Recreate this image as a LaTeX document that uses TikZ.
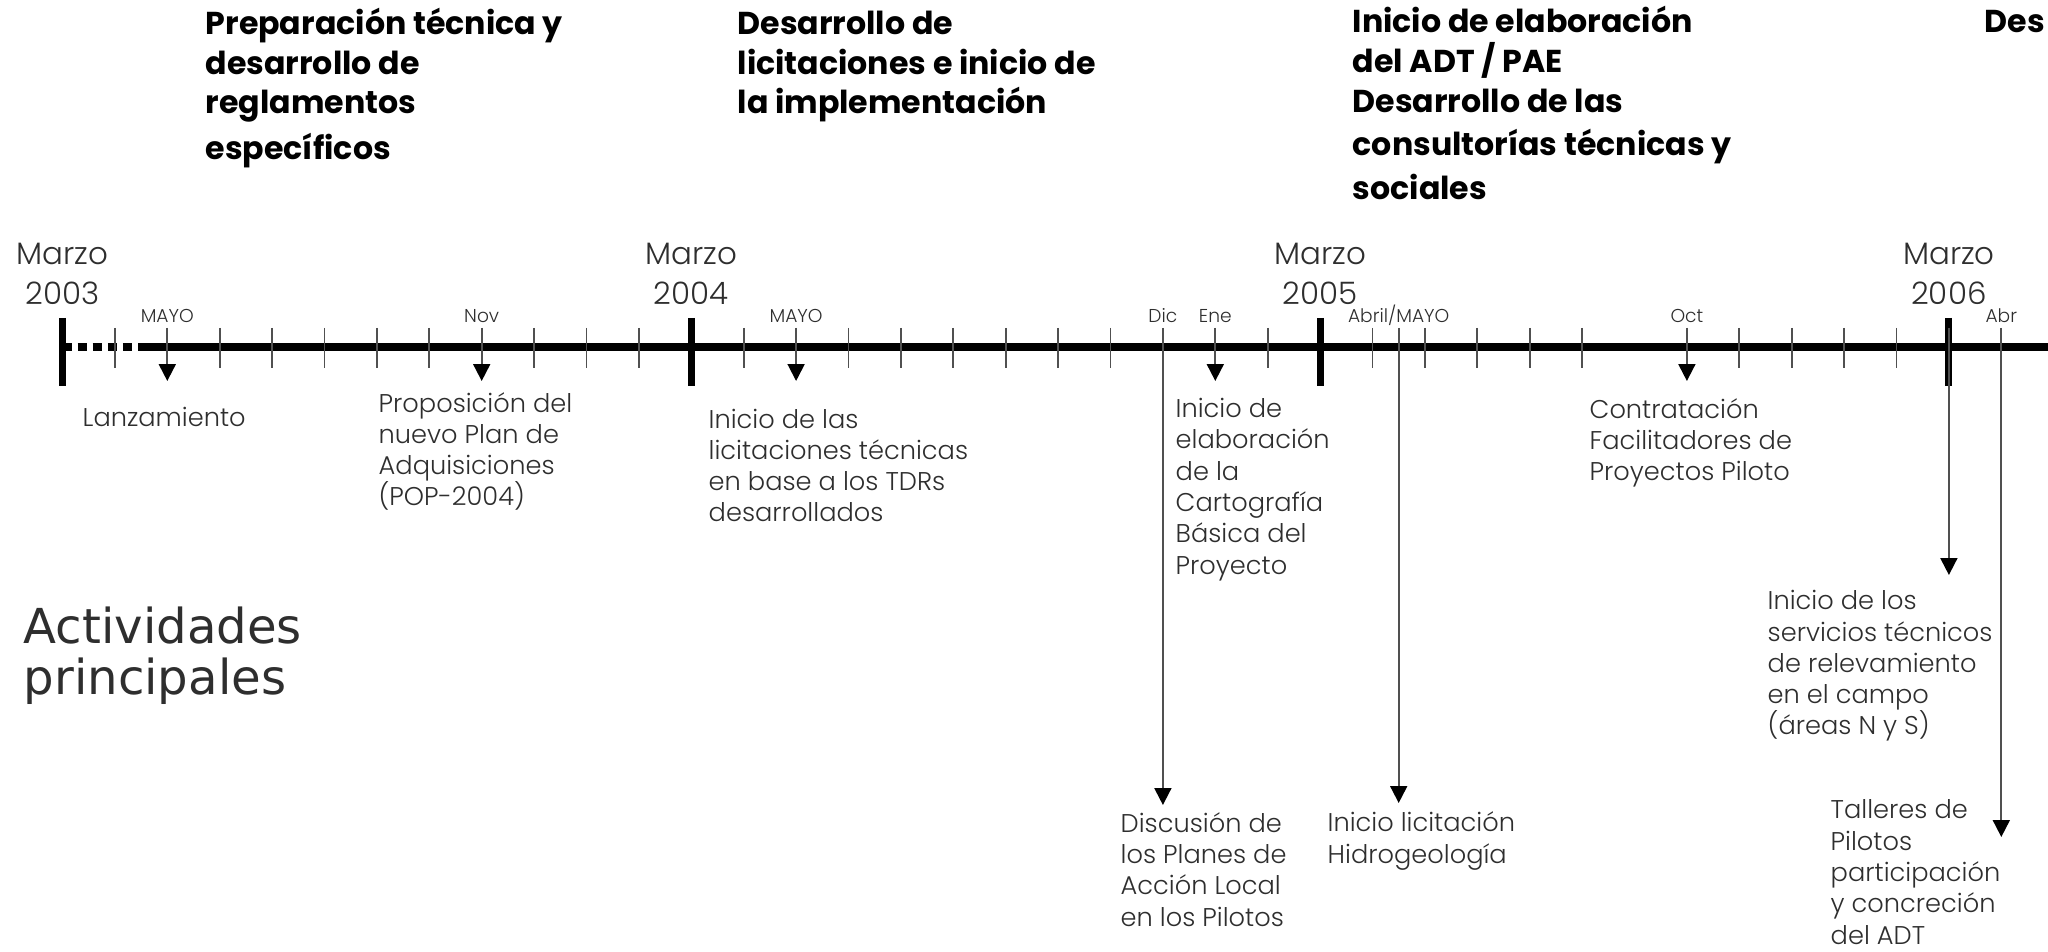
\documentclass[tikz,border=0pt]{standalone}
\usepackage{fontspec}
\setmainfont{Poppins}
\newfontfamily\ligera{Poppins Light}
\newfontfamily\dejavu{DejaVu Sans}
\usetikzlibrary{arrows.meta}

\definecolor{tinta}{HTML}{2E2E2E}
\definecolor{raya}{HTML}{505050}

\begin{document}
\begin{tikzpicture}[x=0.01cm, y=-0.01cm,
  head/.style={anchor=base west, align=left, inner sep=0pt, font=\bfseries\fontsize{9}{11.3}\selectfont},
  lbl/.style={anchor=base west, align=left, inner sep=0pt, text=tinta, font=\ligera\fontsize{7.3}{8.9}\selectfont},
  mes/.style={anchor=base, inner sep=0pt, text=tinta, font=\ligera\fontsize{5.3}{6}\selectfont},
  anio/.style={anchor=base, align=center, inner sep=0pt, text=tinta, font=\ligera\fontsize{8.8}{11.4}\selectfont},
  fino/.style={raya, line width=0.55pt},
  flecha/.style={fino, -{Triangle[width=4.8pt, length=4.8pt, color=black]}}]
\useasboundingbox (0,0) rectangle (2048,952);

% Phases (top), placed by the baseline of their last line
\node[head] (fase1) at (205,160) {Preparación técnica y\\desarrollo de\\reglamentos\\[1.8pt]específicos};
\node[head] (fase2) at (737,114) {Desarrollo de\\licitaciones e inicio de\\la implementación};
\node[head] (fase3) at (1352,200) {Inicio de elaboración\\del ADT / PAE\\Desarrollo de las\\[1pt]consultorías técnicas y\\[1.4pt]sociales};
\node[head] (fase4) at (1984,33) {Des};

% Timeline
\draw[line width=2.5pt, dash pattern=on 2.6pt off 1.7pt] (62.5,347) -- (142,347);
\draw[line width=2.5pt] (142,347) -- (2048,347);

% Month ticks
\foreach \m in {1,2,3,4,5,6,7,8,9,10,11,13,14,15,16,17,18,19,20,22,23,25,26,27,28,29,31,32,33,34,35}
    \draw[fino] ({62.5+52.4*\m},328) -- ++(0,40);

% Years
\foreach \m/\a in {0/2003, 12/2004, 24/2005, 36/2006} {
    \draw[line width=2pt] ({62.5+52.4*\m},318) -- ++(0,68);
    \node[anio] (marzo\a) at ({62.5+52.4*\m},305) {Marzo\\\a};
}

% Month names
\foreach \m/\t/\n in {2/MAYO/mayoA, 8/Nov/nov, 14/MAYO/mayoB, 21/Dic/dic, 22/Ene/ene, 31/Oct/oct, 37/Abr/abr}
    \node[mes] (m\n) at ({62.5+52.4*\m},323) {\t};
\node[mes] (mabrmay) at ({62.5+52.4*25.5},323) {Abril/MAYO};

% Short arrows
\foreach \m/\n in {2/lanz, 8/prop, 14/lici, 22/carto, 31/contr} {
    \coordinate (t\n) at ({62.5+52.4*\m},328);
    \coordinate (p\n) at ({62.5+52.4*\m},381);
    \draw[flecha] (t\n) -- (p\n);
}

% Long arrows
\foreach \m/\y/\n in {21/805/disc, 25.5/803/hidro, 36/575/serv, 37/837/talle} {
    \coordinate (t\n) at ({62.5+52.4*\m},328);
    \coordinate (p\n) at ({62.5+52.4*\m},\y);
    \draw[flecha] (t\n) -- (p\n);
}

% Activities, placed by the baseline of their last line
\node[lbl] (lanz) at (82,427) {Lanzamiento};
\node[lbl] (prop) at (378,506) {Proposición del\\nuevo Plan de\\Adquisiciones\\(POP-2004)};
\node[lbl] (lici) at (708,522) {Inicio de las\\licitaciones técnicas\\en base a los TDRs\\desarrollados};
\node[lbl] (carto) at (1175,574) {Inicio de\\elaboración\\de la\\Cartografía\\Básica del\\Proyecto};
\node[lbl] (contr) at (1589,481) {Contratación\\Facilitadores de\\Proyectos Piloto};
\node[lbl] (serv) at (1767,735) {Inicio de los\\servicios técnicos\\de relevamiento\\en el campo\\(áreas N y S)};
\node[lbl] (disc) at (1120,926) {Discusión de\\los Planes de\\Acción Local\\en los Pilotos};
\node[lbl] (hidro) at (1327,863) {Inicio licitación\\Hidrogeología};
\node[lbl] (talle) at (1830,944) {Talleres de\\Pilotos\\participación\\y concreción\\del ADT};

\node[anchor=base west, align=left, inner sep=0pt, text=tinta, font=\dejavu\fontsize{13.7}{14.5}\selectfont] (activ) at (23,694) {Actividades\\principales};
\end{tikzpicture}
\end{document}
